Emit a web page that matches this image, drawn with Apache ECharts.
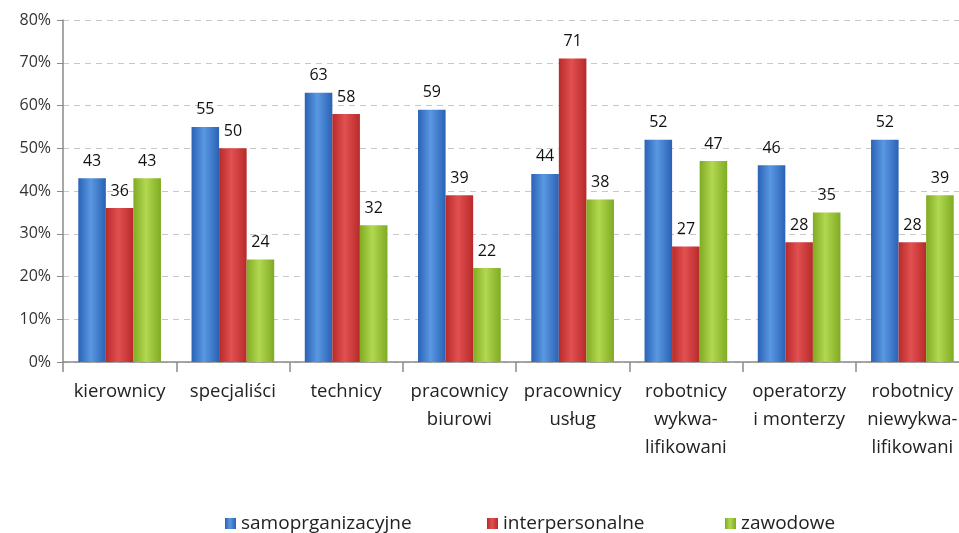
<!DOCTYPE html>
<html>
<head>
<meta charset="utf-8">
<script src="https://cdn.jsdelivr.net/npm/echarts@6/dist/echarts.min.js"></script>
<style>
  html, body { margin: 0; padding: 0; background: #ffffff; overflow: hidden; }
  /* the plot runs past the right edge of the picture, so the div is wider than the window */
  #chart { width: 975px; height: 533px; }
</style>
</head>
<body>
<div id="chart"></div>
<script>
  // categories and values
  const categories = [
    'kierownicy', 'specjaliści', 'technicy', 'pracownicy\nbiurowi',
    'pracownicy\nusług', 'robotnicy\nwykwa-\nlifikowani', 'operatorzy\ni monterzy',
    'robotnicy\nniewykwa-\nlifikowani'
  ];
  const seriesNames = ['samoprganizacyjne', 'interpersonalne', 'zawodowe'];
  const samoorg = [43, 55, 63, 59, 44, 52, 46, 52];
  const interpers = [36, 50, 58, 39, 71, 27, 28, 28];
  const zawodowe = [43, 24, 32, 22, 38, 47, 35, 39];
  const yTicks = [0, 10, 20, 30, 40, 50, 60, 70, 80];

  const font = '"Open Sans", Lato, sans-serif';

  function shade(dark, light) {
    return new echarts.graphic.LinearGradient(0, 0, 1, 0, [
      { offset: 0, color: dark },
      { offset: 0.45, color: light },
      { offset: 1, color: dark }
    ]);
  }

  const colors = [
    shade('#2a62b5', '#5a98e2'),
    shade('#b82a2a', '#e25050'),
    shade('#7fab22', '#b2d850')
  ];
  const flat = ['#3a78c9', '#d03535', '#98c23a'];

  function bar(name, data, i) {
    return {
      name: name,
      type: 'bar',
      data: data,
      barGap: '0%',
      barCategoryGap: '27%',
      itemStyle: { color: colors[i] },
      label: {
        show: true,
        position: 'top',
        distance: 9,
        color: '#111',
        fontSize: 16,
        fontFamily: font
      }
    };
  }

  const chart = echarts.init(document.getElementById('chart'));
  chart.setOption({
    animation: false,
    color: flat,
    grid: { left: 63, top: 20, width: 906, height: 342, containLabel: false },
    legend: [0, 1, 2].map(function (i) {
      return {
        data: [{ name: seriesNames[i], itemStyle: { color: colors[i] } }],
        left: [220, 482, 720][i],
        top: 509,
        itemWidth: 11,
        itemHeight: 11,
        icon: 'rect',
        textStyle: { fontSize: 19, color: '#222', fontFamily: font }
      };
    }),
    xAxis: {
      type: 'category',
      data: categories,
      axisLine: { lineStyle: { color: '#8a8a8a', width: 1.5 } },
      axisTick: { show: true, length: 10, lineStyle: { color: '#8a8a8a', width: 1.5 } },
      axisLabel: {
        interval: 0,
        margin: 16,
        lineHeight: 28,
        fontSize: 18.5,
        color: '#222',
        fontFamily: font
      }
    },
    yAxis: {
      type: 'value',
      min: yTicks[0],
      max: yTicks[yTicks.length - 1],
      interval: 10,
      axisLine: { show: true, lineStyle: { color: '#8a8a8a', width: 1.5 } },
      axisTick: { show: true, length: 6, lineStyle: { color: '#8a8a8a' } },
      splitLine: { lineStyle: { color: '#c8c8c8', type: [6, 5] } },
      axisLabel: {
        margin: 12,
        fontSize: 16,
        color: '#333',
        fontFamily: font,
        formatter: '{value}%'
      }
    },
    series: [
      bar(seriesNames[0], samoorg, 0),
      bar(seriesNames[1], interpers, 1),
      bar(seriesNames[2], zawodowe, 2)
    ]
  });
</script>
</body>
</html>
